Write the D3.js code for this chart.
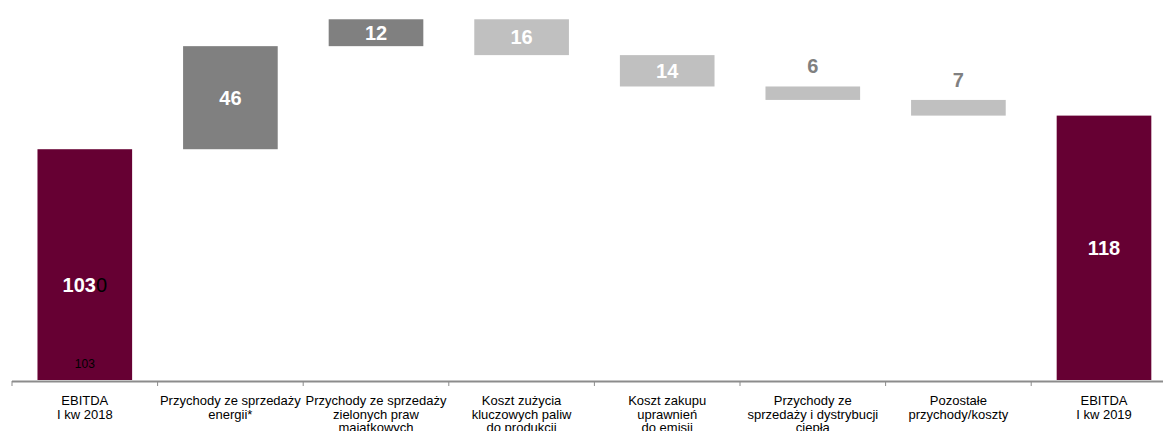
<!DOCTYPE html>
<html>
<head>
<meta charset="utf-8">
<script src="https://cdn.jsdelivr.net/npm/d3@7"></script>
<style>
  html, body { margin: 0; padding: 0; background: #fff; }
  svg { display: block; font-family: "Liberation Sans", Arial, sans-serif; }
</style>
</head>
<body>
<svg id="chart" width="1163" height="431"></svg>
<script>
// ---- data ----
const categories = ["EBITDA 2018", "Energia", "Zielone prawa", "Paliwa", "Emisje", "Ciepło", "Pozostałe", "EBITDA 2019"];
const categoryLabels = [
  ["EBITDA", "I kw 2018"],
  ["Przychody ze sprzedaży", "energii*"],
  ["Przychody ze sprzedaży", "zielonych praw", "majątkowych"],
  ["Koszt zużycia", "kluczowych paliw", "do produkcji"],
  ["Koszt zakupu", "uprawnień", "do emisji"],
  ["Przychody ze", "sprzedaży i dystrybucji", "ciepła"],
  ["Pozostałe", "przychody/koszty"],
  ["EBITDA", "I kw 2019"]
];
const values = [103, 46, 12, -16, -14, -6, -7, 118];
const kinds = ["total", "up", "up", "down", "down", "down", "down", "total"];
const valueLabels = ["103", "46", "12", "16", "14", "6", "7", "118"];

// ---- build waterfall rows ----
let running = 0;
const rows = categories.map((c, i) => {
  let start, end;
  if (kinds[i] === "total") { start = 0; end = values[i]; running = values[i]; }
  else { start = running; end = running + values[i]; running = end; }
  return { cat: c, start, end, kind: kinds[i], label: valueLabels[i], lines: categoryLabels[i], i };
});

const svg = d3.select("#chart");
const x = d3.scaleBand().domain(categories).range([12, 1176.8]).paddingInner(0.35).paddingOuter(0.175);
const y = d3.scaleLinear().domain([0, 169.6]).range([380, 0]);

const colors = { total: "#660033", up: "#808080", down: "#c0c0c0" };

// bars
svg.append("g").selectAll("rect").data(rows).join("rect")
  .attr("x", d => x(d.cat))
  .attr("width", x.bandwidth())
  .attr("y", d => y(Math.max(d.start, d.end)))
  .attr("height", d => Math.abs(y(d.start) - y(d.end)))
  .attr("fill", d => colors[d.kind]);

// value labels
const lbl = svg.append("g").attr("font-weight", "bold").attr("font-size", 20).attr("text-anchor", "middle");
rows.forEach(d => {
  const top = y(Math.max(d.start, d.end));
  const bot = y(Math.min(d.start, d.end));
  const h = bot - top;
  const cx = x(d.cat) + x.bandwidth() / 2;
  if (h < 22) {
    lbl.append("text").attr("x", cx).attr("y", top - 13).attr("fill", "#808080").text(d.label);
  } else if (d.i === 0) {
    const t = lbl.append("text").attr("x", cx).attr("y", y(d.end * 0.41)).attr("dy", "0.35em")
      .attr("fill", "#fff").attr("text-anchor", "start");
    t.append("tspan").text(d.label);
    t.append("tspan").attr("fill", "#000").attr("font-weight", "normal").text("0");
    // center the combined text on the bar's left-ish position like the reference
    const w = t.node().getComputedTextLength();
    t.attr("x", cx - w / 2);
    svg.append("text").attr("x", cx).attr("y", y(0) - 12.5).attr("text-anchor", "middle")
      .attr("font-size", 12).attr("fill", "#000").text(d.label);
  } else {
    lbl.append("text").attr("x", cx).attr("y", (top + bot) / 2).attr("dy", "0.35em")
      .attr("fill", "#fff").text(d.label);
  }
});

// axis
const ax = svg.append("g");
ax.append("line").attr("x1", 12).attr("x2", 1163).attr("y1", 381.5).attr("y2", 381.5)
  .attr("stroke", "#8c8c8c").attr("stroke-width", 2);
d3.range(categories.length + 1).forEach(k => {
  const tx = 12 + k * x.step();
  ax.append("line").attr("x1", tx).attr("x2", tx).attr("y1", 381).attr("y2", 386)
    .attr("stroke", "#8c8c8c").attr("stroke-width", 1);
});

// category labels
const cl = svg.append("g").attr("font-size", 13).attr("fill", "#000").attr("text-anchor", "middle");
rows.forEach(d => {
  const cx = x(d.cat) + x.bandwidth() / 2;
  const t = cl.append("text").attr("x", cx).attr("y", 405);
  d.lines.forEach((ln, j) => {
    t.append("tspan").attr("x", cx).attr("dy", j === 0 ? 0 : 13.5).text(ln);
  });
});
</script>
</body>
</html>
